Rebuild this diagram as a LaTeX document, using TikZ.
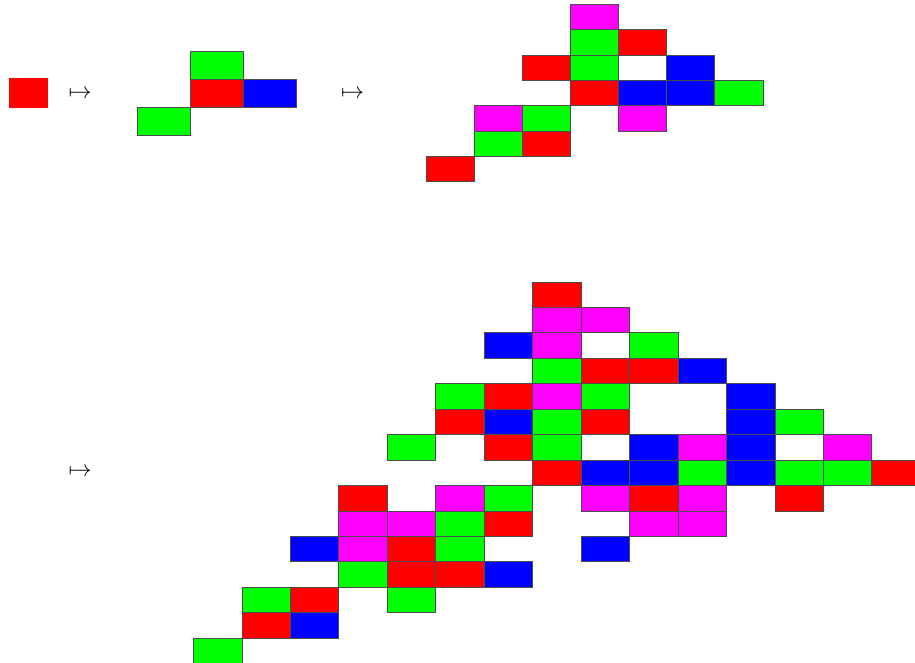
\documentclass[tikz,border=0pt]{standalone}
\definecolor{cR}{RGB}{255,0,0}
\definecolor{cG}{RGB}{0,255,0}
\definecolor{cB}{RGB}{0,0,255}
\definecolor{cM}{RGB}{255,0,255}
\tikzset{
  tile/.style={draw=black!70, line width=0.4pt},
  arrowlabel/.style={inner sep=0pt, scale=2.3}
}
\begin{document}
\begin{tikzpicture}
\useasboundingbox (0pt,0pt) rectangle (915pt,-662pt);
\clip (0pt,0pt) rectangle (915pt,-662pt);
% figure 1
\begin{scope}[shift={(9pt,-78pt)}, x=38pt, y=-29.5pt]
  \filldraw[fill=cR, tile, draw=cR] (0,0) rectangle ++(1,1);
\end{scope}
% figure 2
\begin{scope}[shift={(137pt,-51pt)}, x=53pt, y=-28pt]
  \foreach \c/\r/\col in {1/0/cG, 1/1/cR, 2/1/cB, 0/2/cG}
    \filldraw[fill=\col, tile] (\c,\r) rectangle ++(1,1);
\end{scope}
% figure 3
\begin{scope}[shift={(426pt,-4.3pt)}, x=48.1pt, y=-25.3pt]
  \foreach \c/\r/\col in {3/0/cM,
     3/1/cG, 4/1/cR,
     2/2/cR, 3/2/cG, 5/2/cB,
     3/3/cR, 4/3/cB, 5/3/cB, 6/3/cG,
     1/4/cM, 2/4/cG, 4/4/cM,
     1/5/cG, 2/5/cR,
     0/6/cR}
    \filldraw[fill=\col, tile] (\c,\r) rectangle ++(1,1);
\end{scope}
% figure 4
\begin{scope}[shift={(193.3pt,-281.7pt)}, x=48.45pt, y=-25.45pt]
  \foreach \c/\r/\col in {7/0/cR,
     7/1/cM, 8/1/cM,
     6/2/cB, 7/2/cM, 9/2/cG,
     7/3/cG, 8/3/cR, 9/3/cR, 10/3/cB,
     5/4/cG, 6/4/cR, 7/4/cM, 8/4/cG, 11/4/cB,
     5/5/cR, 6/5/cB, 7/5/cG, 8/5/cR, 11/5/cB, 12/5/cG,
     4/6/cG, 6/6/cR, 7/6/cG, 9/6/cB, 10/6/cM, 11/6/cB, 13/6/cM,
     7/7/cR, 8/7/cB, 9/7/cB, 10/7/cG, 11/7/cB, 12/7/cG, 13/7/cG, 14/7/cR,
     3/8/cR, 5/8/cM, 6/8/cG, 8/8/cM, 9/8/cR, 10/8/cM, 12/8/cR,
     3/9/cM, 4/9/cM, 5/9/cG, 6/9/cR, 9/9/cM, 10/9/cM,
     2/10/cB, 3/10/cM, 4/10/cR, 5/10/cG, 8/10/cB,
     3/11/cG, 4/11/cR, 5/11/cR, 6/11/cB,
     1/12/cG, 2/12/cR, 4/12/cG,
     1/13/cR, 2/13/cB,
     0/14/cG}
    \filldraw[fill=\col, tile] (\c,\r) rectangle ++(1,1);
\end{scope}
% arrows
\node[arrowlabel] (m1) at (80pt,-94pt) {$\mapsto$};
\node[arrowlabel] (m2) at (352.5pt,-94pt) {$\mapsto$};
\node[arrowlabel] (m3) at (80pt,-472pt) {$\mapsto$};
\end{tikzpicture}
\end{document}
